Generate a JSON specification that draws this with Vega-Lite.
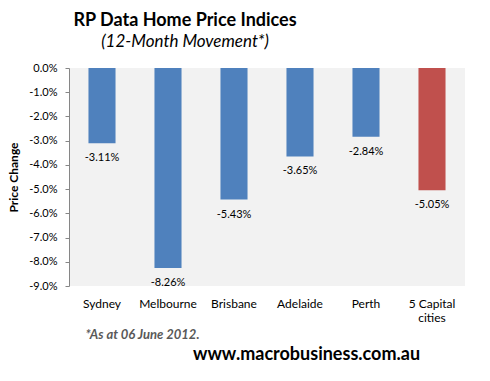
{
  "$schema": "https://vega.github.io/schema/vega-lite/v6.json",
  "autosize": "none",
  "width": 396,
  "height": 218,
  "padding": {"left": 69, "top": 68, "right": 25, "bottom": 95},
  "background": "white",
  "config": {
    "font": "Lato",
    "view": {"fill": "#F2F2F2", "stroke": null},
    "axisY": {"labelOverlap": false, "grid": false}
  },
  "title": {
    "text": "RP Data Home Price Indices",
    "subtitle": "(12-Month Movement*)",
    "anchor": "middle",
    "frame": "group",
    "dx": -82,
    "offset": 12,
    "font": "Lato",
    "fontSize": 18,
    "fontWeight": "bold",
    "color": "#000000",
    "subtitleFont": "Lato",
    "subtitleFontSize": 17,
    "subtitleFontStyle": "italic",
    "subtitleColor": "#000000",
    "subtitlePadding": 4
  },
  "data": {
    "values": [
      {"city": "Sydney", "change": -0.0311},
      {"city": "Melbourne", "change": -0.0826},
      {"city": "Brisbane", "change": -0.0543},
      {"city": "Adelaide", "change": -0.0365},
      {"city": "Perth", "change": -0.0284},
      {"city": "5 Capital cities", "change": -0.0505}
    ]
  },
  "encoding": {
    "x": {
      "field": "city",
      "type": "nominal",
      "sort": null,
      "scale": {"paddingInner": 0.59, "paddingOuter": 0.295}
    },
    "y": {
      "field": "change",
      "type": "quantitative",
      "scale": {"domain": [-0.09, 0], "nice": false, "zero": false},
      "axis": {
        "values": [0, -0.01, -0.02, -0.03, -0.04, -0.05, -0.06, -0.07, -0.08, -0.09],
        "labelExpr": "replace(format(datum.value, '.1%'), '\u2212', '-')",
        "labelOverlap": false,
        "grid": false,
        "domainColor": "#868686",
        "tickColor": "#868686",
        "tickSize": 4,
        "labelFontSize": 11,
        "labelColor": "#000000",
        "labelPadding": 8,
        "title": "Price Change",
        "titleFontSize": 12,
        "titleFontWeight": "bold",
        "titleColor": "#000000",
        "titlePadding": 8
      }
    }
  },
  "layer": [
    {
      "mark": {"type": "bar"},
      "encoding": {
        "x": {
          "field": "city",
          "type": "nominal",
          "sort": null,
          "axis": {
            "orient": "bottom",
            "domain": false,
            "ticks": false,
            "labelAngle": 0,
            "labelFontSize": 12,
            "labelColor": "#000000",
            "labelPadding": 12,
            "labelExpr": "datum.value == '5 Capital cities' ? ['5 Capital', 'cities'] : datum.value",
            "title": "*As at 06 June 2012.",
            "titleFontSize": 13,
            "titleFontWeight": "bold",
            "titleFontStyle": "italic",
            "titleColor": "#595959",
            "titleAnchor": "start",
            "titleAlign": "left",
            "titleBaseline": "middle",
            "titleX": 16,
            "titleY": 48
          }
        },
        "color": {
          "condition": {"test": "datum.city == '5 Capital cities'", "value": "#C0504D"},
          "value": "#4F81BD"
        }
      }
    },
    {
      "transform": [
        {"calculate": "replace(format(datum.change, '.2%'), '\u2212', '-')", "as": "label"}
      ],
      "mark": {"type": "text", "baseline": "top", "dy": 9, "fontSize": 11, "color": "#000000"},
      "encoding": {
        "x": {
          "field": "city",
          "type": "nominal",
          "sort": null,
          "axis": {
            "orient": "bottom",
            "domain": false,
            "ticks": false,
            "labels": false,
            "offset": 0,
            "title": "www.macrobusiness.com.au",
            "titleFontSize": 18,
            "titleFontWeight": "bold",
            "titleColor": "#000000",
            "titleAlign": "center",
            "titleBaseline": "middle",
            "titleX": 237,
            "titleY": 68
          }
        },
        "text": {"field": "label", "type": "nominal"}
      }
    }
  ],
  "resolve": {"axis": {"x": "independent"}}
}
